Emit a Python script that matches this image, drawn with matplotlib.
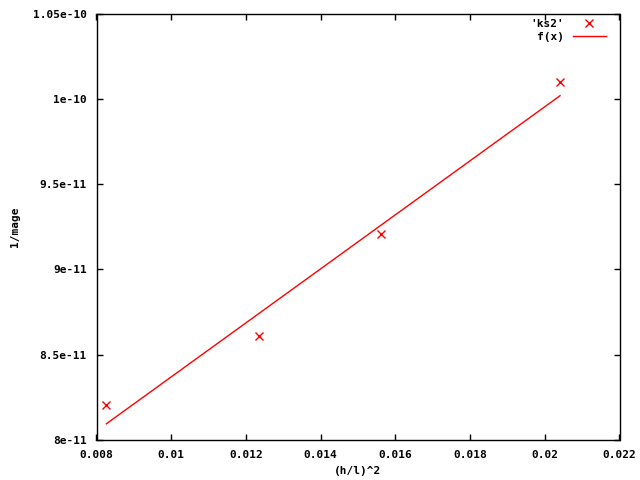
import matplotlib
matplotlib.use("Agg")
import matplotlib.pyplot as plt
from matplotlib.ticker import FixedLocator, FixedFormatter

# data
x_pts = [0.008264, 0.012346, 0.015625, 0.020408]
y_pts = [8.205e-11, 8.610e-11, 9.206e-11, 1.0099e-10]
fit_x = [0.008264, 0.020408]
fit_y = [8.095e-11, 1.0018e-10]
xticks = [0.008, 0.01, 0.012, 0.014, 0.016, 0.018, 0.02, 0.022]
xtick_labels = ["0.008", "0.01", "0.012", "0.014", "0.016", "0.018", "0.02", "0.022"]
yticks = [8e-11, 8.5e-11, 9e-11, 9.5e-11, 1e-10, 1.05e-10]
ytick_labels = ["8e-11", "8.5e-11", "9e-11", "9.5e-11", "1e-10", "1.05e-10"]

plt.rcParams['font.family'] = ['DejaVu Sans Mono']
plt.rcParams['font.weight'] = 'bold'
fs = 8

fig = plt.figure(figsize=(6.4, 4.8), dpi=100)
ax = fig.add_axes([96.5/640, 40/480, 523/640, 426.5/480])

ax.plot(x_pts, y_pts, linestyle='none', marker='x', color='red', markersize=6,
        markeredgewidth=1.0, label="'ks2'")
ax.plot(fit_x, fit_y, color='red', linewidth=1.0, label="f(x)")

ax.set_xlim(0.008, 0.022)
ax.set_ylim(8e-11, 1.05e-10)
ax.xaxis.set_major_locator(FixedLocator(xticks))
ax.xaxis.set_major_formatter(FixedFormatter(xtick_labels))
ax.yaxis.set_major_locator(FixedLocator(yticks))
ax.yaxis.set_major_formatter(FixedFormatter(ytick_labels))
ax.tick_params(direction='in', length=4, width=1, top=True, right=True,
               labelsize=fs, colors='black')
ax.tick_params(axis='x', pad=7.5)
ax.tick_params(axis='y', pad=7)
for s in ax.spines.values():
    s.set_linewidth(1)
    s.set_color('black')

ax.set_xlabel("(h/l)^2", fontsize=fs, fontweight='bold', labelpad=4)
ax.set_ylabel("1/mage", fontsize=fs, fontweight='bold', labelpad=9)

leg = ax.legend(loc='upper right', frameon=False, fontsize=fs, markerfirst=False,
                handlelength=3.0, handletextpad=0.8, borderaxespad=0,
                borderpad=0, labelspacing=0.2,
                bbox_to_anchor=(0.974, 0.9864))
for t in leg.get_texts():
    t.set_ha('right')

fig.savefig("out.png", dpi=100)
